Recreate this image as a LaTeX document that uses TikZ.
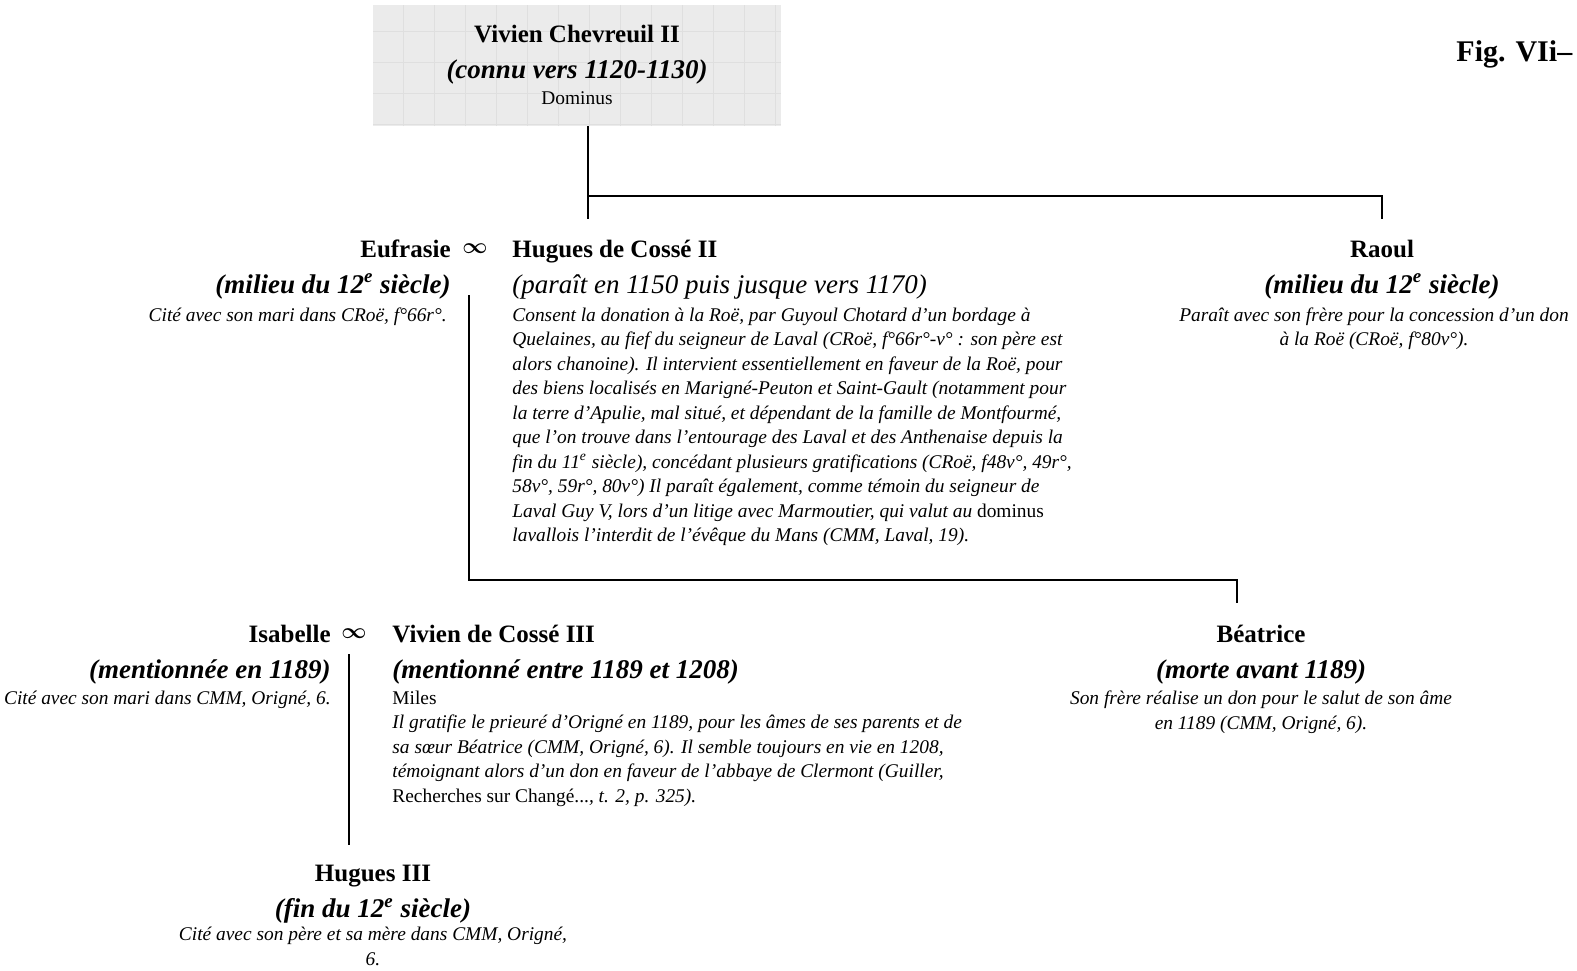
\documentclass[tikz,border=0pt]{standalone}
\usepackage{fontspec}
\setmainfont{Liberation Serif}
\usetikzlibrary{positioning}

\newcommand{\expo}[1]{\textsuperscript{#1}}

\begin{document}
\begin{tikzpicture}[
    x=0.5pt, y=-0.5pt,
    box/.style={rectangle, fill=gray!16, minimum width=204pt, minimum height=60.5pt, inner sep=0pt},
    person/.style={font=\fontsize{12.5}{15}\selectfont\bfseries, inner sep=0pt},
    dates/.style={font=\fontsize{13.5}{16}\selectfont\bfseries\itshape, inner sep=0pt},
    datesl/.style={font=\fontsize{13.5}{16}\selectfont\itshape, inner sep=0pt},
    note/.style={font=\fontsize{9.7}{12.25}\selectfont\itshape, inner sep=0pt},
    title/.style={font=\fontsize{9.7}{12}\selectfont, inner sep=0pt},
    marr/.style={font=\fontsize{10.5}{12}\selectfont\boldmath, inner sep=0pt},
    link/.style={line width=0.8pt}
]
\clip (0,0) rectangle (1577,970);

% ancestor
\node[box] (vivien) at (577,65.5) {};
\draw[gray!25, line width=0.25pt, step=15.5pt] (373,5) grid (781,126);
\node[person, anchor=base] (vivienN) at (577,42.5) {Vivien Chevreuil II};
\node[dates, anchor=base] (vivienD) at (577,78.5) {(connu vers 1120-1130)};
\node[title, anchor=base] (vivienT) at (577,104.5) {Dominus};

\node[font=\fontsize{15}{18}\selectfont\bfseries, inner sep=0pt, anchor=base west] (fig) at (1456,61) {Fig. VIi–};

% second generation
\node[person, anchor=base east] (eufrasie) at (451,257) {Eufrasie};
\node[marr] (mar1) at (475,249) {$\infty$};
\node[person, anchor=base west] (hugues) at (512,257) {Hugues de Cossé II};
\node[dates, anchor=base east] (eufrasieD) at (451,293) {(milieu du 12\expo{e} siècle)};
\node[datesl, anchor=base west] (huguesD) at (512,293) {(paraît en 1150 puis jusque vers 1170)};
\node[note, anchor=base east] (eufrasieR) at (447,321) {Cité avec son mari dans CRoë, f°66r°.};
\node[note, anchor=base west, align=left] (huguesR) at (512,541.5) {Consent la donation à la Roë, par Guyoul Chotard d’un bordage à\\
Quelaines, au fief du seigneur de Laval (CRoë, f°66r°-v° : son père est\\
alors chanoine). Il intervient essentiellement en faveur de la Roë, pour\\
des biens localisés en Marigné-Peuton et Saint-Gault (notamment pour\\
la terre d’Apulie, mal situé, et dépendant de la famille de Montfourmé,\\
que l’on trouve dans l’entourage des Laval et des Anthenaise depuis la\\
fin du 11\expo{e} siècle), concédant plusieurs gratifications (CRoë, f48v°, 49r°,\\
58v°, 59r°, 80v°) Il paraît également, comme témoin du seigneur de\\
Laval Guy V, lors d’un litige avec Marmoutier, qui valut au \textup{dominus}\\
lavallois l’interdit de l’évêque du Mans (CMM, Laval, 19).};

\node[person, anchor=base] (raoul) at (1382,257) {Raoul};
\node[dates, anchor=base] (raoulD) at (1382,293) {(milieu du 12\expo{e} siècle)};
\node[note, anchor=base, align=center] (raoulR) at (1374,345.5) {Paraît avec son frère pour la concession d’un don\\
à la Roë (CRoë, f°80v°).};

% third generation
\node[person, anchor=base east] (isabelle) at (331,642) {Isabelle};
\node[marr] (mar2) at (354,634) {$\infty$};
\node[person, anchor=base west] (vivien3) at (392,642) {Vivien de Cossé III};
\node[dates, anchor=base east] (isabelleD) at (331,678) {(mentionnée en 1189)};
\node[dates, anchor=base west] (vivien3D) at (392,678) {(mentionné entre 1189 et 1208)};
\node[note, anchor=base east] (isabelleR) at (331,704.5) {Cité avec son mari dans CMM, Origné, 6.};
\node[title, anchor=base west] (vivien3T) at (392,704.5) {Miles};
\node[note, anchor=base west, align=left] (vivien3R) at (392,802) {Il gratifie le prieuré d’Origné en 1189, pour les âmes de ses parents et de\\
sa sœur Béatrice (CMM, Origné, 6). Il semble toujours en vie en 1208,\\
témoignant alors d’un don en faveur de l’abbaye de Clermont (Guiller,\\
\textup{Recherches sur Changé...}, t. 2, p. 325).};

\node[person, anchor=base] (beatrice) at (1261,642) {Béatrice};
\node[dates, anchor=base] (beatriceD) at (1261,678) {(morte avant 1189)};
\node[note, anchor=base, align=center] (beatriceR) at (1261,729) {Son frère réalise un don pour le salut de son âme\\
en 1189 (CMM, Origné, 6).};

% fourth generation
\node[person, anchor=base] (hugues3) at (373,881.5) {Hugues III};
\node[dates, anchor=base] (hugues3D) at (373,917.5) {(fin du 12\expo{e} siècle)};
\node[note, anchor=base, align=center] (hugues3R) at (373,965) {Cité avec son père et sa mère dans CMM, Origné,\\
6.};

% lines
\coordinate (branch1) at (588,196);
\coordinate (toHugues) at (588,219);
\coordinate (toRaoul) at (1382,219);
\draw[link] (vivien.south -| toHugues) -- (toHugues);
\draw[link] (branch1) -- (branch1 -| toRaoul) -- (toRaoul);

\coordinate (couple1) at (469,295);
\coordinate (branch2) at (469,580);
\coordinate (toBeatrice) at (1237,603);
\draw[link] (couple1) -- (branch2) -- (branch2 -| toBeatrice) -- (toBeatrice);

\coordinate (couple2) at (349,654);
\coordinate (toHugues3) at (349,845);
\draw[link] (couple2) -- (toHugues3);
\end{tikzpicture}
\end{document}
